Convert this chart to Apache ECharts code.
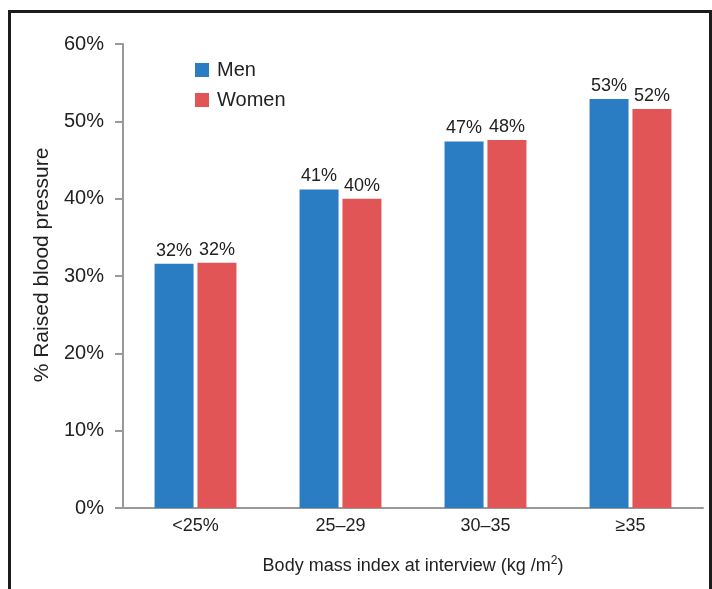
<!DOCTYPE html>
<html>
<head>
<meta charset="utf-8">
<script src="https://cdn.jsdelivr.net/npm/echarts@6/dist/echarts.min.js"></script>
<style>
html,body{margin:0;padding:0;background:#fff;}
#frame{position:absolute;left:8px;top:10px;width:698px;height:600px;border:3px solid #1c1c1c;border-bottom:none;}
#chart{position:absolute;left:0;top:0;width:712px;height:589px;}
</style>
</head>
<body>
<div id="frame"></div>
<div id="chart"></div>
<script>
const categories = ['<25%', '25\u201329', '30\u201335', '\u226535'];
const menValues = [31.6, 41.2, 47.4, 52.9];
const womenValues = [31.7, 40.0, 47.6, 51.6];
const yTicks = [0, 10, 20, 30, 40, 50, 60];

const chart = echarts.init(document.getElementById('chart'));
const font = 'Liberation Sans, Arial, sans-serif';
const labelCfg = {
  show: true, position: 'top', distance: 4,
  color: '#222', fontSize: 18, fontFamily: font,
  formatter: p => Math.round(p.value) + '%'
};
chart.setOption({
  animation: false,
  textStyle: { fontFamily: font },
  legend: {
    orient: 'vertical', left: 195, top: 60, padding: 0,
    itemWidth: 14, itemHeight: 14, itemGap: 10,
    icon: 'rect',
    textStyle: { fontSize: 20, color: '#222', fontFamily: font, padding: [0, 0, 0, 3] },
    data: ['Men', 'Women']
  },
  grid: { left: 123, right: 9, top: 44, bottom: 81 },
  xAxis: {
    type: 'category', data: categories,
    axisLine: { lineStyle: { color: '#999', width: 2 } },
    axisTick: { show: false },
    axisLabel: { fontSize: 18, color: '#222', margin: 9, fontFamily: font },
    name: '{n|Body mass index at interview (kg /m}{s|2}{n|)}',
    nameLocation: 'middle', nameGap: 47,
    nameTextStyle: {
      rich: {
        n: { fontSize: 18, color: '#222', fontFamily: font },
        s: { fontSize: 12, color: '#222', fontFamily: font, verticalAlign: 'top', padding: [0, 0, 10, 0] }
      }
    }
  },
  yAxis: {
    type: 'value', min: yTicks[0], max: yTicks[yTicks.length - 1], interval: 10,
    axisLine: { show: true, lineStyle: { color: '#999', width: 2 } },
    axisTick: { show: true, length: 8, lineStyle: { color: '#999', width: 2 } },
    splitLine: { show: false },
    axisLabel: { fontSize: 20, color: '#222', margin: 19, formatter: v => v + '%', fontFamily: font },
    name: '% Raised blood pressure',
    nameLocation: 'middle', nameGap: 70, nameRotate: 90,
    nameTextStyle: { fontSize: 21, color: '#222', fontFamily: font, padding: [0, 0, 0, 22] }
  },
  series: [
    { name: 'Men', type: 'bar', data: menValues, barWidth: 39, barGap: '10%',
      itemStyle: { color: '#2a7cc3' }, label: labelCfg },
    { name: 'Women', type: 'bar', data: womenValues, barWidth: 39,
      itemStyle: { color: '#e25557' }, label: labelCfg }
  ]
});
</script>
</body>
</html>
